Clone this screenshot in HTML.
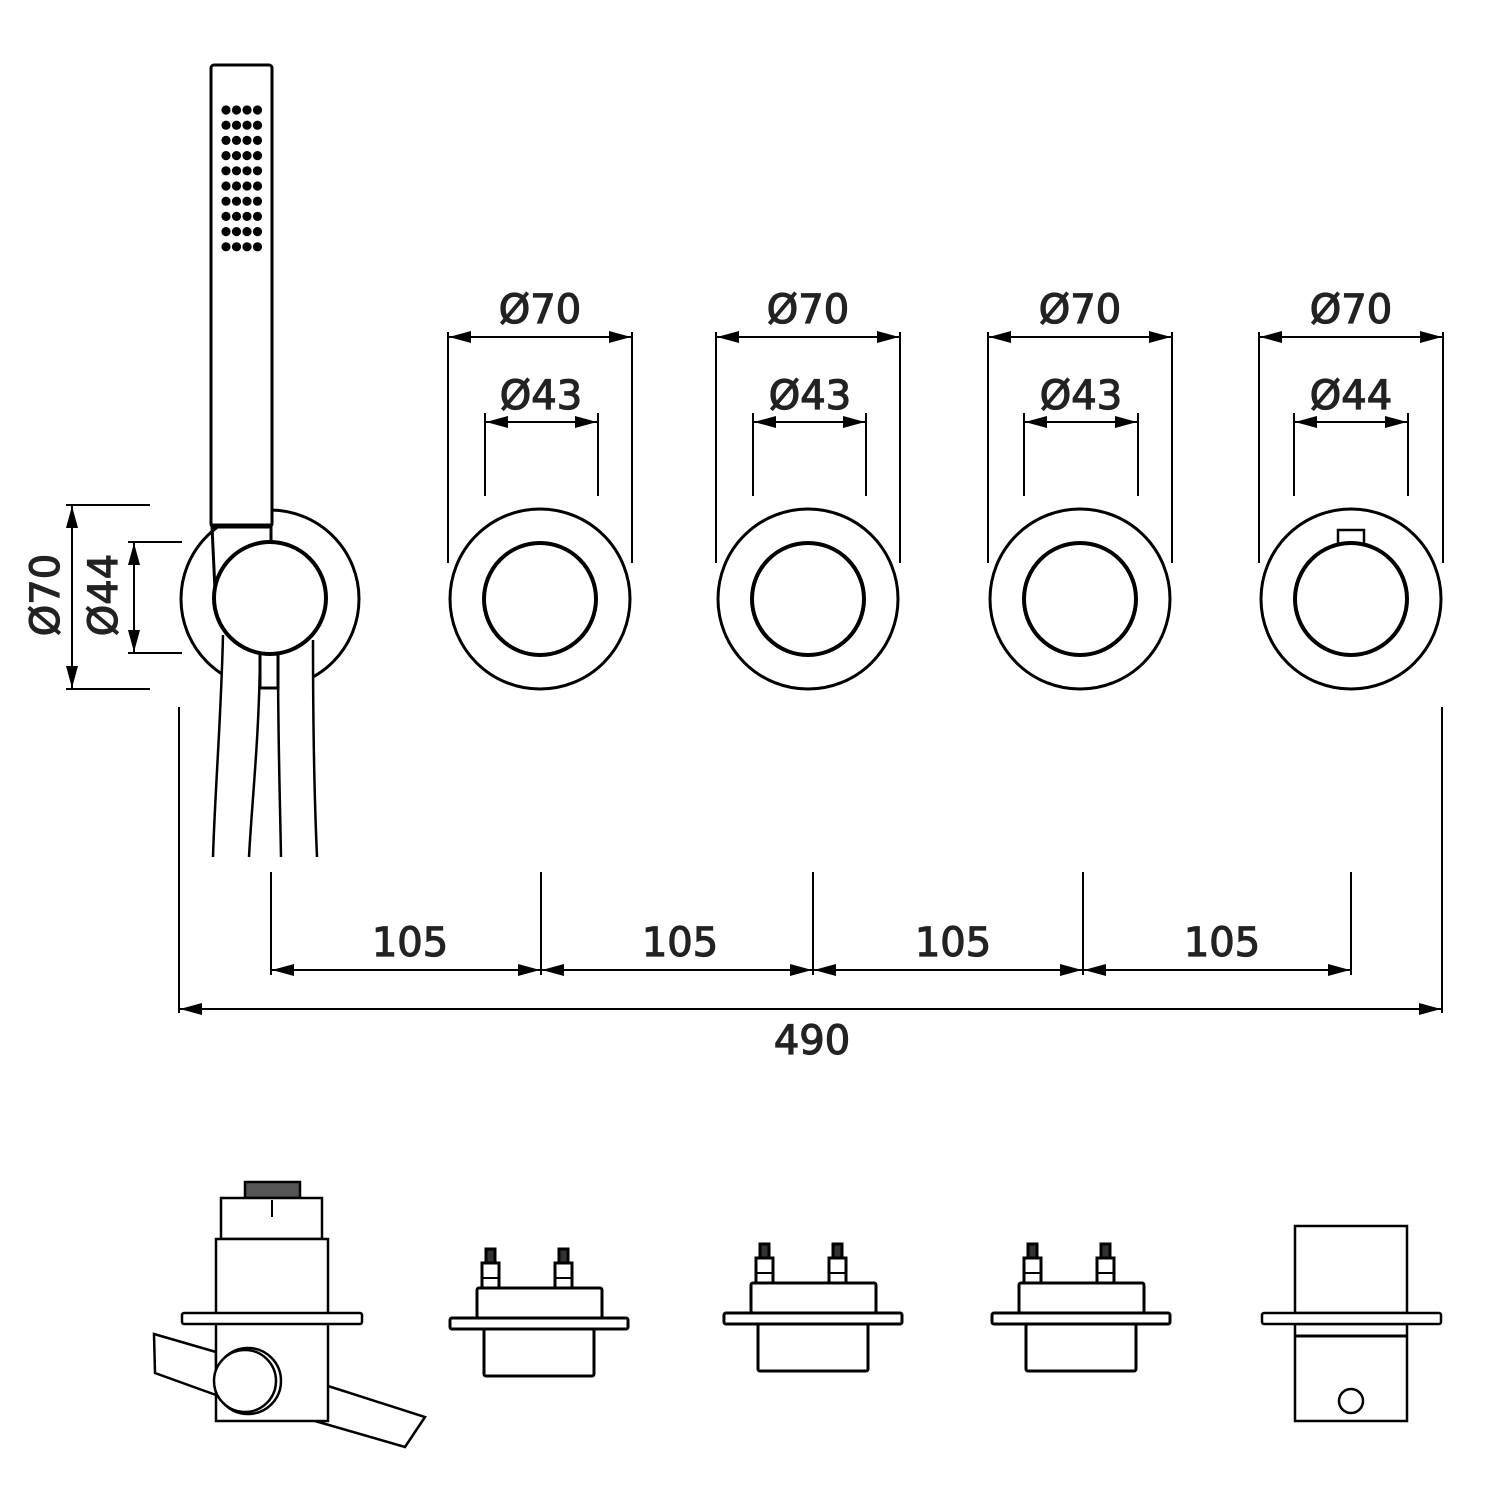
<!DOCTYPE html>
<html><head><meta charset="utf-8"><style>html,body{margin:0;padding:0;background:#fff}svg{display:block}</style></head>
<body>
<svg width="1500" height="1500" viewBox="0 0 1500 1500" xmlns="http://www.w3.org/2000/svg">
<defs>
<marker id="a" viewBox="0 0 22 12" refX="22" refY="6" markerWidth="22" markerHeight="12" markerUnits="userSpaceOnUse" orient="auto-start-reverse"><path d="M0,0 L22,6 L0,12 z" fill="#000"/></marker>
<g id="valve" fill="#fff" stroke="#000" stroke-width="3">
<rect x="27" y="-30" width="125" height="30" rx="2"/>
<rect x="34" y="11" width="110" height="47" rx="2"/>
<rect x="0" y="0" width="178" height="11" rx="2"/>
<rect x="32" y="-55" width="17" height="25"/>
<rect x="105" y="-55" width="17" height="25"/>
<rect x="36" y="-69" width="9" height="14" fill="#333"/>
<rect x="109" y="-69" width="9" height="14" fill="#333"/>
<line x1="32" y1="-40" x2="49" y2="-40" stroke-width="2"/>
<line x1="105" y1="-40" x2="122" y2="-40" stroke-width="2"/>
</g>
</defs>
<g font-family="'DejaVu Sans',sans-serif" font-size="40" fill="#222" text-anchor="middle">
<circle cx="270" cy="599" r="89" fill="none" stroke="#000" stroke-width="3"/>
<path d="M222,630 C221,720 215,790 213,857 L317,857 C314,790 313,720 313,640 z" fill="#fff"/>
<rect x="211" y="65" width="61" height="462" rx="3" fill="#fff" stroke="#000" stroke-width="3"/>
<line x1="211" y1="526" x2="272" y2="526" stroke="#000" stroke-width="5"/>
<line x1="212" y1="527" x2="215" y2="590" stroke="#000" stroke-width="3"/>
<line x1="271" y1="527" x2="271" y2="543" stroke="#000" stroke-width="3"/>
<rect x="260" y="652" width="18" height="36" fill="#fff" stroke="#000" stroke-width="3"/>
<circle cx="270" cy="598" r="56" fill="#fff" stroke="#000" stroke-width="4"/>
<g fill="none" stroke="#000" stroke-width="2.5">
<path d="M223,635 C221,720 215,790 213,857"/>
<path d="M260,657 C259,740 252,800 249,857"/>
<path d="M278,657 C278,740 280,800 281,857"/>
<path d="M313,640 C313,720 314,790 317,857"/>
</g>
<g fill="#000">
<g id="row"><circle cx="226" cy="110" r="4.6"/><circle cx="236.5" cy="110" r="4.6"/><circle cx="247" cy="110" r="4.6"/><circle cx="257.5" cy="110" r="4.6"/></g>
<use href="#row" y="15.2"/><use href="#row" y="30.4"/><use href="#row" y="45.6"/><use href="#row" y="60.8"/><use href="#row" y="76"/><use href="#row" y="91.2"/><use href="#row" y="106.4"/><use href="#row" y="121.6"/><use href="#row" y="136.8"/>
</g>
<g stroke="#000" stroke-width="2">
<line x1="66" y1="505" x2="150" y2="505"/><line x1="66" y1="689" x2="150" y2="689"/>
<line x1="72" y1="506" x2="72" y2="688" marker-start="url(#a)" marker-end="url(#a)"/>
<line x1="128" y1="542" x2="182" y2="542"/><line x1="128" y1="653" x2="182" y2="653"/>
<line x1="134" y1="543" x2="134" y2="652" marker-start="url(#a)" marker-end="url(#a)"/>
</g>
<g stroke="#222" stroke-width="1.2">
<text transform="translate(59,595) rotate(-90)">Ø70</text>
<text transform="translate(117,595) rotate(-90)">Ø44</text>
</g>
<g fill="#fff" stroke="#000">
<circle cx="540" cy="599" r="90" stroke-width="3"/><circle cx="540" cy="599" r="56" stroke-width="4"/>
<circle cx="808" cy="599" r="90" stroke-width="3"/><circle cx="808" cy="599" r="56" stroke-width="4"/>
<circle cx="1080" cy="599" r="90" stroke-width="3"/><circle cx="1080" cy="599" r="56" stroke-width="4"/>
<circle cx="1351" cy="599" r="90" stroke-width="3"/>
<rect x="1338" y="530" width="26" height="14" stroke-width="2.5"/>
<circle cx="1351" cy="599" r="56" stroke-width="4"/>
</g>
<g stroke="#000" stroke-width="2">
<line x1="448" y1="332" x2="448" y2="563"/><line x1="632" y1="332" x2="632" y2="563"/><line x1="449" y1="337" x2="631" y2="337" marker-start="url(#a)" marker-end="url(#a)"/>
<line x1="485" y1="413" x2="485" y2="496"/><line x1="598" y1="413" x2="598" y2="496"/><line x1="486" y1="422" x2="597" y2="422" marker-start="url(#a)" marker-end="url(#a)"/>
<line x1="716" y1="332" x2="716" y2="563"/><line x1="900" y1="332" x2="900" y2="563"/><line x1="717" y1="337" x2="899" y2="337" marker-start="url(#a)" marker-end="url(#a)"/>
<line x1="753" y1="413" x2="753" y2="496"/><line x1="866" y1="413" x2="866" y2="496"/><line x1="754" y1="422" x2="865" y2="422" marker-start="url(#a)" marker-end="url(#a)"/>
<line x1="988" y1="332" x2="988" y2="563"/><line x1="1172" y1="332" x2="1172" y2="563"/><line x1="989" y1="337" x2="1171" y2="337" marker-start="url(#a)" marker-end="url(#a)"/>
<line x1="1024" y1="413" x2="1024" y2="496"/><line x1="1138" y1="413" x2="1138" y2="496"/><line x1="1025" y1="422" x2="1137" y2="422" marker-start="url(#a)" marker-end="url(#a)"/>
<line x1="1259" y1="332" x2="1259" y2="563"/><line x1="1443" y1="332" x2="1443" y2="563"/><line x1="1260" y1="337" x2="1442" y2="337" marker-start="url(#a)" marker-end="url(#a)"/>
<line x1="1294" y1="413" x2="1294" y2="496"/><line x1="1408" y1="413" x2="1408" y2="496"/><line x1="1295" y1="422" x2="1407" y2="422" marker-start="url(#a)" marker-end="url(#a)"/>
</g>
<g stroke="#222" stroke-width="1.2">
<text x="540" y="323">Ø70</text><text x="541" y="409">Ø43</text>
<text x="808" y="323">Ø70</text><text x="810" y="409">Ø43</text>
<text x="1080" y="323">Ø70</text><text x="1081" y="409">Ø43</text>
<text x="1351" y="323">Ø70</text><text x="1351" y="409">Ø44</text>
<text x="410" y="956">105</text><text x="680" y="956">105</text><text x="953" y="956">105</text><text x="1222" y="956">105</text>
<text x="812" y="1054">490</text>
</g>
<g stroke="#000" stroke-width="2">
<line x1="271" y1="872" x2="271" y2="975"/><line x1="541" y1="872" x2="541" y2="975"/><line x1="813" y1="872" x2="813" y2="975"/><line x1="1083" y1="872" x2="1083" y2="975"/><line x1="1351" y1="872" x2="1351" y2="975"/>
<line x1="272" y1="970" x2="540" y2="970" marker-start="url(#a)" marker-end="url(#a)"/>
<line x1="542" y1="970" x2="812" y2="970" marker-start="url(#a)" marker-end="url(#a)"/>
<line x1="814" y1="970" x2="1082" y2="970" marker-start="url(#a)" marker-end="url(#a)"/>
<line x1="1084" y1="970" x2="1350" y2="970" marker-start="url(#a)" marker-end="url(#a)"/>
<line x1="179" y1="707" x2="179" y2="1013"/><line x1="1442" y1="707" x2="1442" y2="1013"/>
<line x1="180" y1="1009" x2="1441" y2="1009" marker-start="url(#a)" marker-end="url(#a)"/>
</g>
<g fill="#fff" stroke="#000" stroke-width="2.5">
<polygon points="154,1334 216,1352 216,1395 155,1373"/>
<polygon points="328,1386 425,1417 405,1447 315,1421"/>
<rect x="245" y="1182" width="55" height="16" fill="#555"/>
<rect x="221" y="1198" width="101" height="41"/>
<line x1="272" y1="1200" x2="272" y2="1217" stroke-width="2"/>
<rect x="216" y="1239" width="112" height="182"/>
<rect x="182" y="1313" width="180" height="11" rx="2"/>
<circle cx="248" cy="1381" r="33"/>
<circle cx="245" cy="1381" r="31"/>
</g>
<use href="#valve" x="450" y="1318"/>
<use href="#valve" x="724" y="1313"/>
<use href="#valve" x="992" y="1313"/>
<g fill="#fff" stroke="#000" stroke-width="2.5">
<rect x="1295" y="1226" width="112" height="87"/>
<rect x="1295" y="1324" width="112" height="97"/>
<line x1="1295" y1="1336" x2="1407" y2="1336" stroke-width="3"/>
<rect x="1262" y="1313" width="179" height="11" rx="2"/>
<circle cx="1351" cy="1401" r="12"/>
</g>
</g>
</svg>
</body></html>
